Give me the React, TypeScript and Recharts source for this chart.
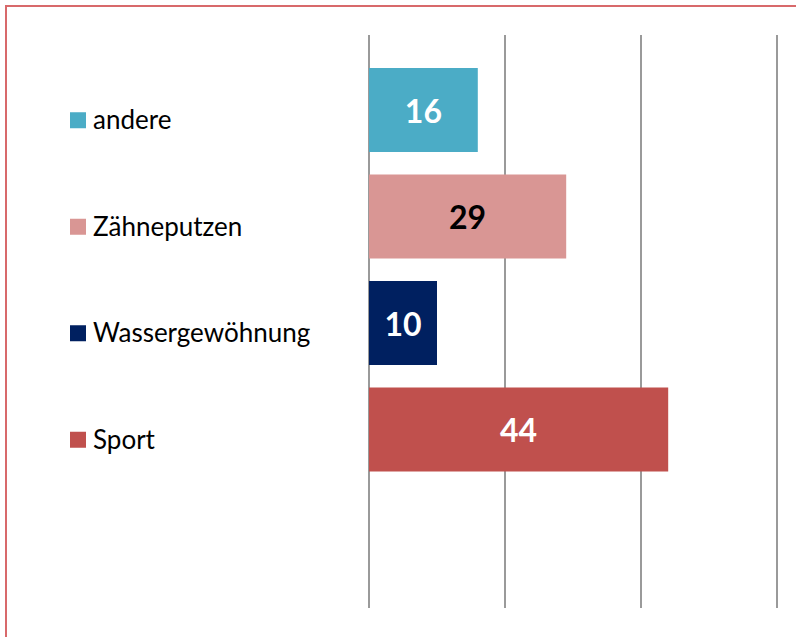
import React from 'react';
import { BarChart, Bar, XAxis, YAxis, CartesianGrid, Cell, LabelList } from 'recharts';

const categories = ['andere', 'Zähneputzen', 'Wassergewöhnung', 'Sport'];
const values = [16, 29, 10, 44];
const colors = ['#4bacc6', '#d99694', '#002060', '#c0504d'];
const labelColors = ['#ffffff', '#000000', '#ffffff', '#ffffff'];
const xTicks = [0, 20, 40, 60];

const data = categories.map((name, i) => ({ name, value: values[i] }));

const FONT = 'Lato, "Open Sans", sans-serif';

// legend entries drawn as y-axis ticks so they follow the bands
const LegendTick = (props: any) => {
  const { y, payload, index } = props;
  return (
    <g transform={`translate(70, ${y + 10})`}>
      <rect x={0} y={-8} width={16} height={16} fill={colors[index]} />
      <text x={23} y={0} dy={9} fontSize={26} fontFamily={FONT} fill="#000">
        {payload.value}
      </text>
    </g>
  );
};

const ValueLabel = (props: any) => {
  const { x, y, width, height, value, index } = props;
  return (
    <text
      x={x + width / 2}
      y={y + height / 2}
      textAnchor="middle"
      dominantBaseline="central"
      fontSize={32}
      fontWeight="bold"
      fontFamily={FONT}
      fill={labelColors[index]}
    >
      {value}
    </text>
  );
};

export default function App() {
  return (
    <div style={{ position: 'absolute', left: 0, top: 0, width: 796, height: 637, overflow: 'hidden', background: '#fff', fontFamily: FONT }}>
      <div style={{ position: 'absolute', left: 5, top: 5, width: 900, height: 900, border: '2px solid #d8696b', boxSizing: 'border-box' }} />
      <div style={{ position: 'absolute', left: 0, top: 0 }}>
        <BarChart
          width={796}
          height={637}
          data={data}
          layout="vertical"
          margin={{ top: 35, right: 19, bottom: 29, left: 0 }}
          barSize={84}
        >
          <CartesianGrid horizontal={false} vertical={true} stroke="#9a9a9a" strokeWidth={2} />
          <XAxis type="number" domain={[0, 60]} ticks={xTicks} hide />
          <YAxis
            type="category"
            dataKey="name"
            width={369}
            axisLine={false}
            tickLine={false}
            tick={<LegendTick />}
            padding={{ top: 22, bottom: 125 }}
          />
          <Bar dataKey="value" isAnimationActive={false}>
            {data.map((d, i) => (
              <Cell key={d.name} fill={colors[i]} />
            ))}
            <LabelList dataKey="value" content={<ValueLabel />} />
          </Bar>
        </BarChart>
      </div>
    </div>
  );
}
